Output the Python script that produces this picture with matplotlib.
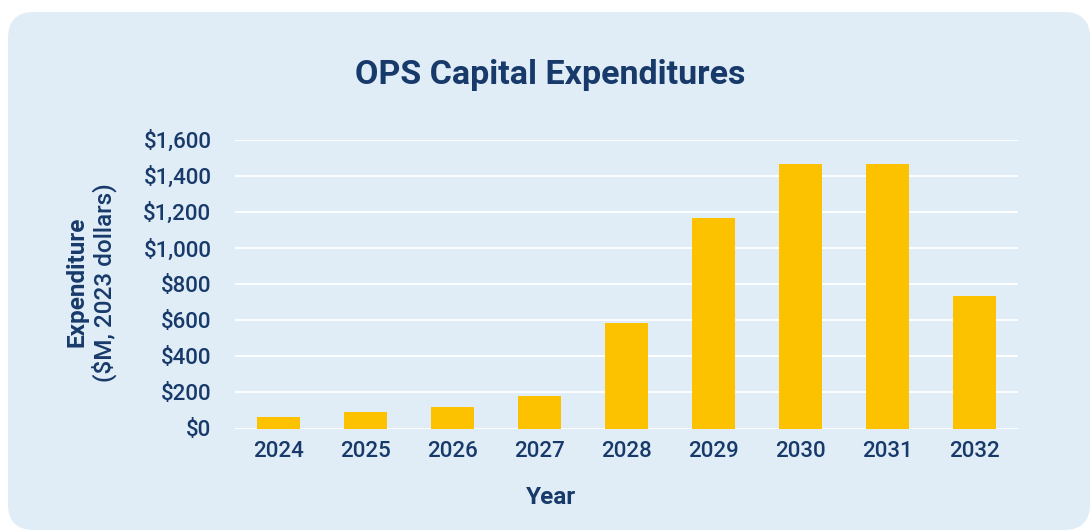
import matplotlib.pyplot as plt
from matplotlib.patches import FancyBboxPatch
from matplotlib.ticker import FuncFormatter

plt.rcParams['font.family'] = ['Roboto', 'DejaVu Sans']

years = ['2024', '2025', '2026', '2027', '2028', '2029', '2030', '2031', '2032']
spend = [64, 91, 119, 180, 584, 1165, 1465, 1465, 734]
y_ticks = [0, 200, 400, 600, 800, 1000, 1200, 1400, 1600]

navy = '#173A6A'
gold = '#FCC200'
panel = '#E0ECF6'

W, H = 1092, 531
fig = plt.figure(figsize=(W / 100, H / 100), dpi=100)
fig.patch.set_facecolor('white')

# background axes in pixel units, holds the rounded panel
bgax = fig.add_axes([0, 0, 1, 1], zorder=-1)
bgax.set_xlim(0, W)
bgax.set_ylim(H, 0)
bgax.axis('off')
bgax.add_patch(FancyBboxPatch((8, 12), 1082, 518,
                              boxstyle='round,pad=0,rounding_size=26',
                              facecolor=panel, edgecolor='none'))

ax = fig.add_axes([235 / W, (H - 428.5) / H, 783 / W, 289 / H])
ax.set_facecolor('none')
ax.bar(range(len(years)), spend, width=0.5, color=gold, zorder=3)

ax.set_xlim(-0.5, len(years) - 0.5)
ax.set_ylim(0, 1600)
ax.set_yticks(y_ticks)
ax.yaxis.set_major_formatter(FuncFormatter(lambda v, p: '${:,.0f}'.format(v)))
ax.set_xticks(range(len(years)))
ax.set_xticklabels(years)
ax.grid(axis='y', color='white', linewidth=1.3, zorder=1)
for s in ax.spines.values():
    s.set_visible(False)
ax.tick_params(axis='both', length=0, labelsize=16, labelcolor=navy)
ax.tick_params(axis='y', pad=17)
ax.tick_params(axis='x', pad=9)
for lab in ax.get_xticklabels() + ax.get_yticklabels():
    lab.set_fontweight('medium')

fig.text(550 / W, 1 - 75 / H, 'OPS Capital Expenditures', ha='center', va='center',
         fontsize=24.5, fontweight='bold', color=navy)
fig.text(551 / W, 1 - 497 / H, 'Year', ha='center', va='center',
         fontsize=17.5, fontweight='bold', color=navy)
fig.text(77 / W, 1 - 282 / H, 'Expenditure', rotation=90, ha='center', va='center',
         fontsize=17.5, fontweight='bold', color=navy)
fig.text(104 / W, 1 - 283 / H, '($M, 2023 dollars)', rotation=90, ha='center', va='center',
         fontsize=17.5, fontweight='medium', color=navy)

fig.savefig('out.png', dpi=100, facecolor='white')
